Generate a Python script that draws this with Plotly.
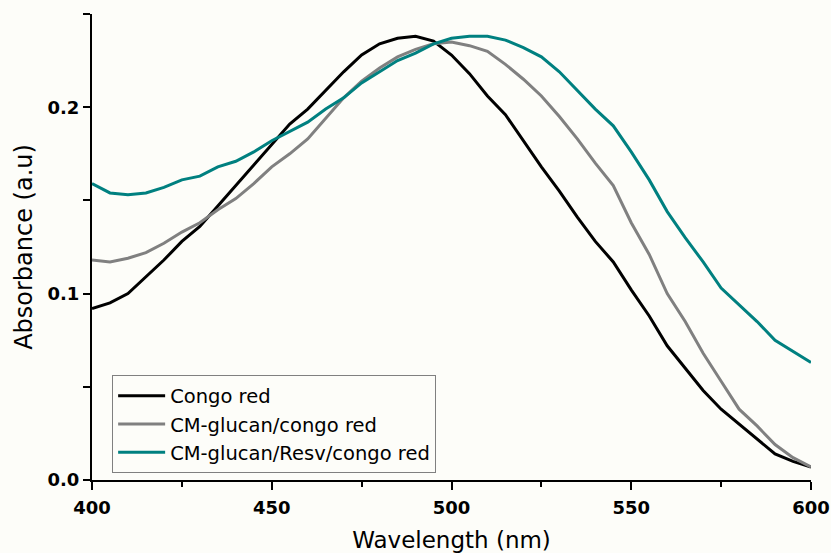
import plotly.graph_objects as go

wavelength = list(range(400, 601, 5))

congo_red = [0.092, 0.095, 0.100, 0.109, 0.118, 0.128, 0.136, 0.147, 0.158, 0.169,
             0.180, 0.191, 0.199, 0.209, 0.219, 0.228, 0.234, 0.237, 0.238, 0.2355,
             0.228, 0.218, 0.206, 0.196, 0.182, 0.168, 0.155, 0.141, 0.128, 0.117,
             0.102, 0.088, 0.072, 0.060, 0.048, 0.038, 0.030, 0.022, 0.014, 0.010,
             0.007]

cm_glucan_congo = [0.118, 0.117, 0.119, 0.122, 0.127, 0.133, 0.138, 0.145, 0.151, 0.159,
                   0.168, 0.175, 0.183, 0.194, 0.205, 0.214, 0.221, 0.227, 0.231, 0.234,
                   0.235, 0.233, 0.230, 0.223, 0.215, 0.206, 0.195, 0.183, 0.170, 0.158,
                   0.138, 0.121, 0.100, 0.085, 0.068, 0.053, 0.038, 0.029, 0.019, 0.012,
                   0.007]

cm_glucan_resv_congo = [0.159, 0.154, 0.153, 0.154, 0.157, 0.161, 0.163, 0.168, 0.171, 0.176,
                        0.182, 0.187, 0.192, 0.199, 0.205, 0.213, 0.219, 0.225, 0.229, 0.234,
                        0.237, 0.238, 0.238, 0.236, 0.232, 0.227, 0.219, 0.209, 0.199, 0.190,
                        0.176, 0.161, 0.144, 0.130, 0.117, 0.103, 0.094, 0.085, 0.075, 0.069,
                        0.063]

series_names = ["Congo red", "CM-glucan/congo red", "CM-glucan/Resv/congo red"]
series_values = [congo_red, cm_glucan_congo, cm_glucan_resv_congo]
series_colors = ["#000000", "#808080", "#008080"]

x_tick_vals = [400, 450, 500, 550, 600]
y_tick_vals = [0.0, 0.1, 0.2]

fig = go.Figure()
for name, vals, col in zip(series_names, series_values, series_colors):
    fig.add_trace(go.Scatter(x=wavelength, y=vals, mode="lines", name=name,
                             line=dict(color=col, width=3)))

bg = "#fdfdf9"
fig.update_layout(
    width=831, height=553,
    margin=dict(l=92, r=20, t=14, b=73),
    paper_bgcolor=bg, plot_bgcolor=bg,
    font=dict(family="DejaVu Sans", color="#000000"),
    showlegend=True,
    legend=dict(
        x=0.028, y=0.014, xanchor="left", yanchor="bottom",
        bgcolor=bg, bordercolor="#808080", borderwidth=1,
        font=dict(family="DejaVu Sans", size=19.5, color="#000000"),
        itemwidth=47,
    ),
)
fig.update_xaxes(
    range=[400, 600], showline=True, linecolor="#000000", linewidth=2,
    showgrid=False, zeroline=False, automargin=False,
    tickmode="array", tickvals=x_tick_vals,
    ticks="outside", ticklen=8, tickwidth=2, tickcolor="#000000",
    ticklabelstandoff=2,
    tickfont=dict(family="DejaVu Sans", size=18, weight="bold"),
    minor=dict(dtick=25, tick0=400, ticks="outside", ticklen=5, tickwidth=2, tickcolor="#000000", showgrid=False),
    title=dict(text="Wavelength (nm)", font=dict(family="DejaVu Sans", size=23), standoff=16),
)
fig.update_yaxes(
    range=[0, 0.25], showline=True, linecolor="#000000", linewidth=2,
    showgrid=False, zeroline=False, automargin=False,
    tickmode="array", tickvals=y_tick_vals, tickformat=".1f",
    ticks="outside", ticklen=7, tickwidth=2, tickcolor="#000000",
    tickfont=dict(family="DejaVu Sans", size=18, weight="bold"),
    minor=dict(dtick=0.05, tick0=0, ticks="outside", ticklen=7, tickwidth=2, tickcolor="#000000", showgrid=False),
    title=dict(text="Absorbance (a.u)", font=dict(family="DejaVu Sans", size=24), standoff=8),
)

fig.write_html(
    "out.html",
    config={"displayModeBar": False},
    post_script="document.body.style.margin='0';document.body.style.overflow='hidden';document.body.style.background='" + bg + "';",
)
